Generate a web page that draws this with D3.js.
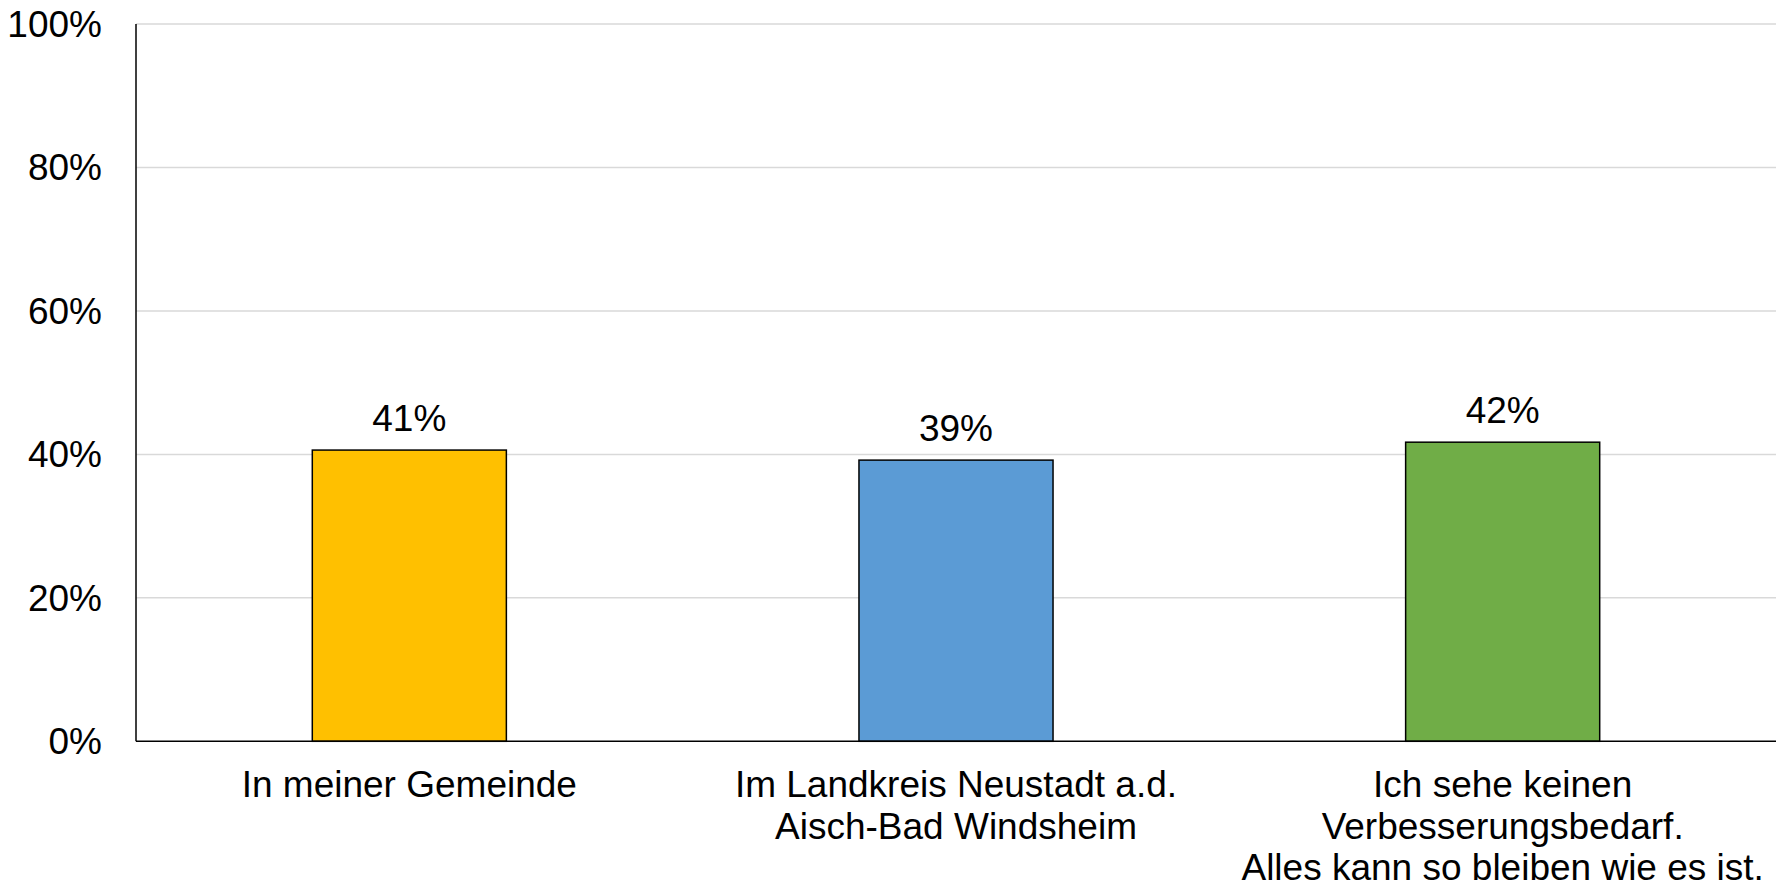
<!DOCTYPE html>
<html><head><meta charset="utf-8">
<script src="https://cdn.jsdelivr.net/npm/d3@7"></script>
<style>body{margin:0;background:#fff}svg{display:block}text{font-family:"Liberation Sans",Arial,sans-serif;fill:#000}</style>
</head><body><svg id="c" width="1781" height="888"></svg>
<script>
const categories = [["In meiner Gemeinde"], ["Im Landkreis Neustadt a.d.", "Aisch-Bad Windsheim"], ["Ich sehe keinen", "Verbesserungsbedarf.", "Alles kann so bleiben wie es ist."]];
const values = [40.6, 39.2, 41.7];
const labels = ["41%", "39%", "42%"];
const colors = ["#FFC000", "#5B9BD5", "#70AD47"];
const yTicks = [0, 20, 40, 60, 80, 100];

const svg = d3.select("#c");
const fs = 37;
const m = {left: 136, right: 1776, top: 24, bottom: 741.3};
const x = d3.scaleBand().domain(d3.range(values.length)).range([m.left, m.right]).paddingInner(0.645).paddingOuter(0.3225);
const y = d3.scaleLinear().domain([0, 100]).range([m.bottom, m.top]);

// gridlines
svg.append("g").selectAll("line").data(yTicks.filter(d => d > 0)).join("line")
  .attr("x1", m.left).attr("x2", m.right).attr("y1", d => y(d)).attr("y2", d => y(d))
  .attr("stroke", "#d9d9d9").attr("stroke-width", 1.5);

// y labels
svg.append("g").selectAll("text").data(yTicks).join("text")
  .attr("x", 102).attr("y", d => y(d) + 13).attr("text-anchor", "end")
  .attr("font-size", fs).text(d => d + "%");

// bars
svg.append("g").selectAll("rect").data(values).join("rect")
  .attr("x", (d, i) => x(i)).attr("y", d => y(d)).attr("width", x.bandwidth())
  .attr("height", d => y(0) - y(d)).attr("fill", (d, i) => colors[i])
  .attr("stroke", "#000").attr("stroke-width", 1.5);

// value labels
svg.append("g").selectAll("text").data(values).join("text")
  .attr("x", (d, i) => x(i) + x.bandwidth() / 2).attr("y", d => y(d) - 19.5)
  .attr("text-anchor", "middle").attr("font-size", fs).text((d, i) => labels[i]);

// axes lines
svg.append("line").attr("x1", m.left).attr("x2", m.left).attr("y1", m.top).attr("y2", m.bottom)
  .attr("stroke", "#000").attr("stroke-width", 1.5);
svg.append("line").attr("x1", m.left).attr("x2", m.right).attr("y1", m.bottom).attr("y2", m.bottom)
  .attr("stroke", "#000").attr("stroke-width", 1.5);

// category labels
const cg = svg.append("g").selectAll("text").data(categories).join("text")
  .attr("text-anchor", "middle").attr("font-size", fs);
cg.each(function(lines, i) {
  const t = d3.select(this);
  const cx = x(i) + x.bandwidth() / 2;
  lines.forEach((s, j) => {
    t.append("tspan").attr("x", cx).attr("y", 797 + j * 41.5).text(s);
  });
});
</script></body></html>
